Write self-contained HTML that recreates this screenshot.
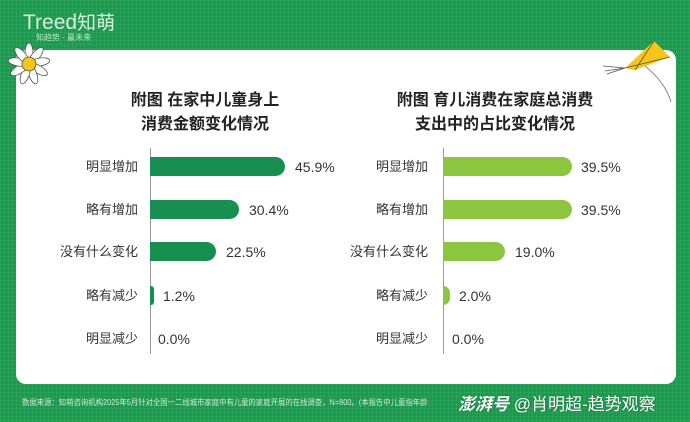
<!DOCTYPE html>
<html><head><meta charset="utf-8"><style>
body{margin:0;width:690px;height:422px;overflow:hidden;background:#1a9a4c;font-family:"Liberation Sans","Noto Sans CJK SC",sans-serif;position:relative}
.grid{position:absolute;inset:0;background-image:linear-gradient(rgba(255,255,255,.06) 1px,transparent 1px),linear-gradient(90deg,rgba(255,255,255,.06) 1px,transparent 1px);background-size:4px 4px}
.panel{position:absolute;left:16px;top:50px;width:660px;height:334px;background:#fff;border-radius:10px}
.t{position:absolute;font-weight:bold;font-size:16px;color:#222;text-align:center;line-height:24px}
.lab{position:absolute;font-size:13px;color:#333;text-align:right;width:110px;line-height:16px}
.val{position:absolute;font-size:14px;color:#333;line-height:16px}
.bar{position:absolute;height:19px;border-radius:0 10px 10px 0}
.ax{position:absolute;width:1px;background:#999;top:148px;height:206px}
</style></head><body>
<div class="grid"></div>
<div style="position:absolute;left:23px;top:8px;color:#d8f0dc;font-size:21px">Treed<span style="font-size:19px">知萌</span></div>
<div style="position:absolute;left:36px;top:32px;color:#bfe6c8;font-size:8px">知趋势 · 赢未来</div>
<div class="panel"></div>
<svg style="position:absolute;left:6px;top:42px" width="46" height="44"><g transform="translate(23,22)" fill="#fff" stroke="#555" stroke-width=".8">
<ellipse rx="4" ry="10" transform="rotate(0) translate(0,-11)"/><ellipse rx="4" ry="10" transform="rotate(40) translate(0,-11)"/><ellipse rx="4" ry="10" transform="rotate(80) translate(0,-11)"/><ellipse rx="4" ry="10" transform="rotate(120) translate(0,-11)"/><ellipse rx="4" ry="10" transform="rotate(160) translate(0,-11)"/><ellipse rx="4" ry="10" transform="rotate(200) translate(0,-11)"/><ellipse rx="4" ry="10" transform="rotate(240) translate(0,-11)"/><ellipse rx="4" ry="10" transform="rotate(280) translate(0,-11)"/><ellipse rx="4" ry="10" transform="rotate(320) translate(0,-11)"/>
<circle r="7" fill="#f5c518"/></g></svg>
<svg style="position:absolute;left:595px;top:38px" width="95" height="64"><polygon points="30,30 59,3 75,19 40,32" fill="#f5c518"/><line x1="30" y1="30" x2="75" y2="19" stroke="#555" stroke-width=".8"/><line x1="59" y1="3" x2="40" y2="32" stroke="#555" stroke-width=".8"/><path d="M30,30 L8,28 M30,30 L10,33 M30,30 L12,36" stroke="#555" fill="none" stroke-width=".8"/><path d="M50,28 Q70,44 76,64" stroke="#888" fill="none"/></svg>
<div class="t" style="left:105px;top:89px;width:200px">附图 在家中儿童身上<br>消费金额变化情况</div>
<div class="t" style="left:385px;top:89px;width:220px">附图 育儿消费在家庭总消费<br>支出中的占比变化情况</div>
<div class="ax" style="left:150px"></div>
<div class="ax" style="left:443px"></div>
<div class="lab" style="left:28px;top:159px">明显增加</div><div class="bar" style="left:150px;top:157px;width:135px;background:#178f50"></div><div class="val" style="left:295px;top:159px">45.9%</div>
<div class="lab" style="left:28px;top:202px">略有增加</div><div class="bar" style="left:150px;top:200px;width:89px;background:#178f50"></div><div class="val" style="left:249px;top:202px">30.4%</div>
<div class="lab" style="left:28px;top:244px">没有什么变化</div><div class="bar" style="left:150px;top:242px;width:66px;background:#178f50"></div><div class="val" style="left:226px;top:244px">22.5%</div>
<div class="lab" style="left:28px;top:288px">略有减少</div><div class="bar" style="left:150px;top:286px;width:4px;background:#178f50;border-radius:0 3px 3px 0"></div><div class="val" style="left:163px;top:288px">1.2%</div>
<div class="lab" style="left:28px;top:331px">明显减少</div><div class="val" style="left:158px;top:331px">0.0%</div>
<div class="lab" style="left:318px;top:159px">明显增加</div><div class="bar" style="left:443px;top:157px;width:129px;background:#8cc63f"></div><div class="val" style="left:581px;top:159px">39.5%</div>
<div class="lab" style="left:318px;top:202px">略有增加</div><div class="bar" style="left:443px;top:200px;width:129px;background:#8cc63f"></div><div class="val" style="left:581px;top:202px">39.5%</div>
<div class="lab" style="left:318px;top:244px">没有什么变化</div><div class="bar" style="left:443px;top:242px;width:62px;background:#8cc63f"></div><div class="val" style="left:515px;top:244px">19.0%</div>
<div class="lab" style="left:318px;top:288px">略有减少</div><div class="bar" style="left:443px;top:286px;width:7px;background:#8cc63f"></div><div class="val" style="left:459px;top:288px">2.0%</div>
<div class="lab" style="left:318px;top:331px">明显减少</div><div class="val" style="left:452px;top:331px">0.0%</div>
<div style="position:absolute;left:22px;top:397px;font-size:8px;color:#cde8d3;white-space:nowrap;transform:scaleX(.92);transform-origin:left">数据来源：知萌咨询机构2025年5月针对全国一二线城市家庭中有儿童的家庭开展的在线调查，N=800。(本报告中儿童指年龄</div>
<div style="position:absolute;left:458px;top:390px;font-size:17px;color:#fff;white-space:nowrap;text-shadow:0 0 2px rgba(0,0,0,.3)"><b><i>澎湃号</i></b> @肖明超-趋势观察</div>
</body></html>
